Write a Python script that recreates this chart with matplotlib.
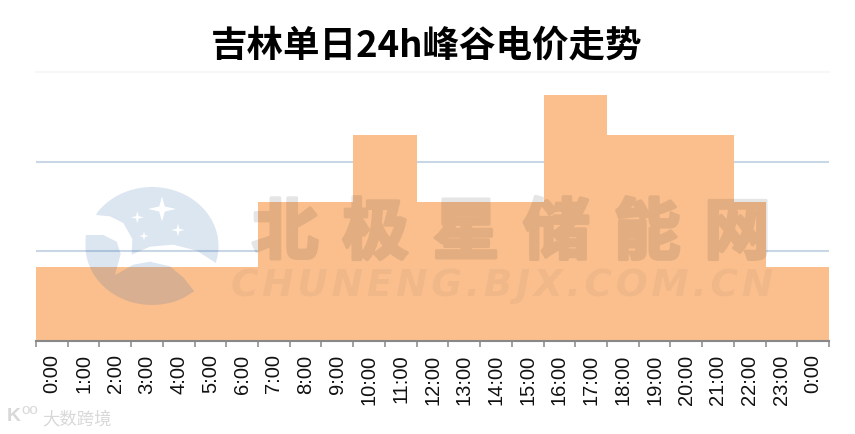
import numpy as np
import matplotlib.pyplot as plt
import matplotlib.patheffects as pe
from matplotlib.patches import Polygon

# Dados: preço por hora (eixo y sem etiquetas no original)
horas = [f"{h}:00" for h in range(24)] + ["0:00"]
precos = [0.166, 0.166, 0.166, 0.166, 0.166, 0.166, 0.166,
          0.309, 0.309, 0.309,
          0.459, 0.459,
          0.309, 0.309, 0.309, 0.309,
          0.549, 0.549,
          0.459, 0.459, 0.459, 0.459,
          0.309,
          0.166, 0.166]
grelha_y = [0.2, 0.4]

W, H = 855, 435
fig = plt.figure(figsize=(W / 100, H / 100), dpi=100, facecolor="white")
ax = fig.add_axes([36 / W, 1 - 342 / H, (829 - 36) / W, (342 - 73) / H])

ax.bar(range(len(precos)), precos, width=1.0, align="edge", color="#FBBF8D", linewidth=0, zorder=2)
ax.set_xlim(0, len(horas))
ax.set_ylim(0, 0.6)

for v in grelha_y:
    ax.axhline(v, color="#C8D6E5", linewidth=1.5, zorder=1)
ax.axhline(0.6, color="#F5F7F8", linewidth=1.5, zorder=1, clip_on=False)

for lado in ["top", "right", "left"]:
    ax.spines[lado].set_visible(False)
ax.spines["bottom"].set_color("#888888")
ax.spines["bottom"].set_linewidth(1.5)
ax.set_yticks([])
ax.set_xticks(np.arange(len(horas) + 1))
ax.set_xticklabels([])
ax.tick_params(axis="x", which="major", length=4.5, width=1.1, color="#888888")
ax.set_xticks(np.arange(len(horas)) + 0.5, minor=True)
ax.set_xticklabels(horas, minor=True, rotation=90, fontsize=14.5,
                   family="Liberation Sans", color="#111111", ha="center", va="top")
ax.tick_params(axis="x", which="minor", length=0, pad=9)

fig.text(427 / W, 1 - 46 / H, "吉林单日24h峰谷电价走势", fontsize=26.3, fontweight="bold",
         family=["Noto Sans CJK SC", "DejaVu Sans"], color="black", ha="center", va="center")

# Camada da marca de água em coordenadas de pixel
marca = fig.add_axes([0, 0, 1, 1], facecolor="none", zorder=5)
marca.set_xlim(0, W)
marca.set_ylim(H, 0)
marca.axis("off")


def arco(a0, a1, n=50):
    # arco da elipse do logótipo (graus)
    t = np.radians(np.linspace(a0, a1, n))
    return np.column_stack([152 + 66.5 * np.cos(t), 247 + 59 * np.sin(t)])


def zoom_px(pts):
    # pontos lidos no recorte ampliado 3x
    p = np.array(pts, dtype=float)
    return np.column_stack([p[:, 0] / 3, p[:, 1] / 3 + 60])


def filtro_alpha(alpha):
    # aplica a transparência depois do contorno, para não somar no traço
    def f(img, dpi):
        img = img.copy()
        img[:, :, 3] *= alpha
        return img, 0, 0
    return f


ceu_borda = zoom_px([(648, 612), (590, 575), (520, 557), (450, 563), (395, 587), (397, 540),
                     (370, 492), (330, 472), (288, 468)])
ceu = np.vstack([arco(215, 375), ceu_borda])
marca.add_patch(Polygon(ceu, closed=True, facecolor="#2564AA", alpha=0.16, linewidth=0))

baixo_borda = zoom_px([(257, 528), (310, 528), (350, 548), (362, 585), (345, 648), (400, 617),
                       (450, 608), (510, 622), (550, 655), (583, 697)])
baixo = np.vstack([baixo_borda, arco(62, 181)])
marca.add_patch(Polygon(baixo, closed=True, facecolor="#2564AA", alpha=0.16, linewidth=0))

# Estrelas brancas do logótipo
estrelas = [(486, 450, 42, 38), (412, 475, 20, 18), (432, 531, 15, 14), (534, 513, 20, 19)]
for ex, ey, rx, ry in estrelas:
    k = 0.2
    pts = [(ex, ey - ry), (ex + rx * k, ey - ry * k), (ex + rx, ey), (ex + rx * k, ey + ry * k),
           (ex, ey + ry), (ex - rx * k, ey + ry * k), (ex - rx, ey), (ex - rx * k, ey - ry * k)]
    marca.add_patch(Polygon(zoom_px(pts), closed=True, facecolor="white", linewidth=0))

# Nome do site
nome = "北极星储能网"
for i, c in enumerate(nome):
    t = marca.text(285 + i * 90.5, 235, c, fontsize=48, fontweight="bold", color="#2F2F2F",
                   family="Noto Sans CJK SC", ha="center", va="center")
    t.set_path_effects([pe.withStroke(linewidth=2.5, foreground="#2F2F2F")])
    t.set_agg_filter(filtro_alpha(0.125))
marca.text(502, 286, "\u200a".join("CHUNENG.BJX.COM.CN"), fontsize=27, fontweight="bold", style="italic",
           color="#2F2F2F", alpha=0.05, family="DejaVu Sans", ha="center", va="center")

# Marca no canto inferior
marca.text(77, 419, "大数跨境", fontsize=12.5, color="#D8D8D8",
           family="Noto Sans CJK SC", ha="center", va="center")
marca.text(14, 417, "K", fontsize=14, fontweight="bold", color="#D8D8D8",
           family="Liberation Sans", ha="center", va="center")
marca.text(30, 410, "oo", fontsize=11, color="#D8D8D8",
           family="Liberation Sans", ha="center", va="center")

fig.savefig("out.png", dpi=100)
